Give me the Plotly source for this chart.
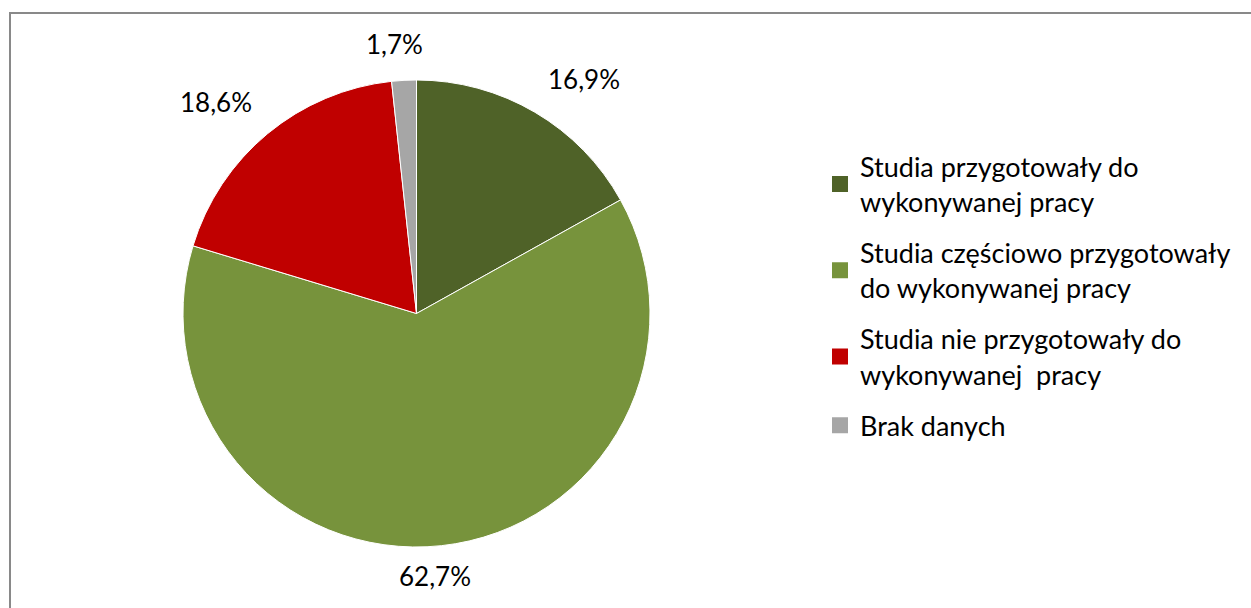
import math

import plotly.graph_objects as go

# Data
labels = [
    "Studia przygotowały do<br>wykonywanej pracy",
    "Studia częściowo przygotowały<br>do wykonywanej pracy",
    "Studia nie przygotowały do<br>wykonywanej  pracy",
    "Brak danych",
]
values = [16.9, 62.7, 18.6, 1.7]
colors = ["#4F6228", "#77933C", "#C00000", "#A6A6A6"]

W, H = 1251, 608
font_family = "Lato, 'Noto Sans', sans-serif"

# pie geometry in pixels (centre and radius)
cx, cy, r = 416.5, 313.5, 233.5

fig = go.Figure()
fig.add_trace(
    go.Pie(
        labels=labels,
        values=values,
        marker=dict(colors=colors, line=dict(color="white", width=1)),
        sort=False,
        direction="clockwise",
        rotation=0,
        textinfo="none",
        hoverinfo="label+value",
        showlegend=False,
        domain=dict(x=[(cx - r) / W, (cx + r) / W], y=[(H - cy - r) / H, (H - cy + r) / H]),
    )
)

# legend entries (one group each so the gap between entries can be set)
for lab, col in zip(labels, colors):
    fig.add_trace(
        go.Scatter(
            x=[None],
            y=[None],
            mode="markers",
            name=lab,
            legendgroup=lab,
            marker=dict(symbol="square", size=16, color=col),
            hoverinfo="skip",
        )
    )

# outside labels in the style of the original (placed along each slice's mid angle)
total = sum(values)
cum = 0
for v in values:
    mid = (cum + v / 2) / total * 2 * math.pi
    cum += v
    s, c = math.sin(mid), math.cos(mid)
    xa = "left" if s > 0.3 else ("right" if s < -0.3 else "center")
    ya = "bottom" if c > 0.3 else ("top" if c < -0.3 else "middle")
    gap = 18 if ya == "bottom" else 12
    px = cx + (r + gap + 4) * s
    if xa == "center":
        px -= 8
    py = cy - (r + gap) * c
    fig.add_annotation(
        x=px / W,
        y=1 - py / H,
        xref="paper",
        yref="paper",
        text=f"{v:.1f}%".replace(".", ","),
        showarrow=False,
        xanchor=xa,
        yanchor=ya,
        font=dict(size=26, color="black", family=font_family),
    )

# chart frame
fig.add_shape(
    type="rect",
    xref="paper",
    yref="paper",
    x0=10 / W,
    y0=-0.05,
    x1=1.05,
    y1=1 - 13 / H,
    line=dict(color="#898989", width=2),
    layer="below",
)

fig.update_layout(
    width=W,
    height=H,
    margin=dict(l=0, r=0, t=0, b=0),
    paper_bgcolor="white",
    plot_bgcolor="white",
    font=dict(family=font_family, size=27, color="black"),
    xaxis=dict(visible=False),
    yaxis=dict(visible=False),
    showlegend=True,
    legend=dict(
        x=820 / W,
        y=1 - 296 / H,
        xanchor="left",
        yanchor="middle",
        tracegroupgap=13,
        font=dict(size=27, family=font_family, color="black"),
        bgcolor="rgba(0,0,0,0)",
    ),
)

fig.write_html(
    "out.html",
    config={"displayModeBar": False},
    post_script="document.body.style.margin='0';",
)
